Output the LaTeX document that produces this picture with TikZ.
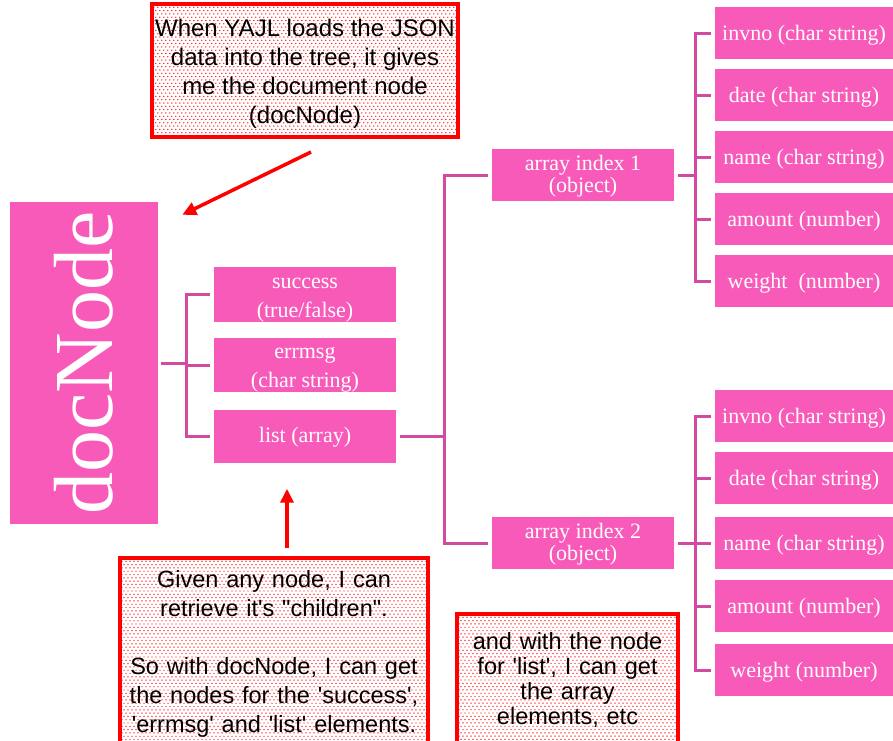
\documentclass[tikz,border=0pt]{standalone}
\usepackage{fontspec}
\setmainfont{Liberation Serif}
\newfontfamily\notefont{Liberation Sans}
\usetikzlibrary{arrows.meta}
\definecolor{boxpink}{RGB}{248,90,185}
\definecolor{linkpink}{RGB}{210,75,160}
\newcommand\qt{\textquotesingle}
\newcommand\lift[1]{\rule{0pt}{#1}}
\begin{document}
\begin{tikzpicture}[
    x=1pt, y=-1pt,
    pinkbox/.style={
        rectangle,
        fill=boxpink,
        text=white,
        inner sep=0pt,
        font=\fontsize{22}{29}\selectfont,
        align=center
    },
    item/.style={pinkbox, minimum width=182pt, minimum height=53pt},
    arritem/.style={pinkbox, minimum width=182pt, minimum height=52pt,
        font=\fontsize{22}{22}\selectfont},
    field/.style={pinkbox, minimum width=178pt, minimum height=52pt,
        font=\fontsize{22}{26}\selectfont},
    dotrow/.style={red, line width=1.4pt, line cap=round, dash pattern=on 0pt off 4pt},
    note/.style={
        rectangle,
        draw=red,
        line width=4pt,
        text=black,
        align=center,
        font=\notefont\fontsize{23.5}{29}\selectfont,
        path picture={
            \foreach \k in {0,...,30} {
                \draw[dotrow]
                    ([yshift=-\k*6.6pt]path picture bounding box.north west) --
                    ([yshift=-\k*6.6pt]path picture bounding box.north east);
                \draw[dotrow, dash phase=2pt]
                    ([yshift=-\k*6.6pt-3.3pt]path picture bounding box.north west) --
                    ([yshift=-\k*6.6pt-3.3pt]path picture bounding box.north east);
            }
        }
    },
    link/.style={draw=linkpink, line width=3pt},
    pointer/.style={draw=red, line width=3.5pt,
        -{Triangle[length=14pt,width=13pt]}}
]
\clip (0,0) rectangle (893,740);

% the document node and its children
\node[pinkbox, minimum width=148pt, minimum height=322pt] (docNode) at (84,363)
    {\rotatebox{90}{\fontsize{84}{84}\selectfont docNode}};
\node[item] (success) at (305,294.5) {\lift{21pt}success\\(true/false)};
\node[item] (errmsg) at (305,365) {\lift{21pt}errmsg\\(char string)};
\node[item] (list) at (305,436) {\lift{18pt}list (array)};

% array elements
\node[arritem] (arr1) at (583,175) {\lift{18pt}array index 1\\(object)};
\node[arritem] (arr2) at (583,543) {\lift{18pt}array index 2\\(object)};

\foreach \y/\t [count=\i] in {33/invno (char string), 95/date (char string),
    157/name (char string), 219/amount (number), 281/weight\ \ (number)}
    \node[field] (fa\i) at (804,\y) {\lift{19pt}\t};
\foreach \y/\t [count=\i] in {416/invno (char string), 478/date (char string),
    543/name (char string), 606/amount (number), 670/weight (number)}
    \node[field] (fb\i) at (804,\y) {\lift{19pt}\t};

% brackets
\coordinate (j1) at (186,363);
\coordinate (j2) at (444,436);
\coordinate (j3) at (695,175);
\coordinate (j4) at (695,543);
\draw[link] ([xshift=3pt]docNode.east) -- (j1);
\foreach \n in {success,errmsg,list}
    \draw[link] (j1) |- ([xshift=-4pt]\n.west);
\draw[link] ([xshift=4pt]list.east) -- (j2);
\foreach \n in {arr1,arr2}
    \draw[link] (j2) |- ([xshift=-4pt]\n.west);
\draw[link] ([xshift=4pt]arr1.east) -- (j3);
\draw[link] ([xshift=4pt]arr2.east) -- (j4);
\foreach \i in {1,...,5} {
    \draw[link] (j3) |- ([xshift=-4pt]fa\i.west);
    \draw[link] (j4) |- ([xshift=-4pt]fb\i.west);
}

% notes
\node[note, minimum width=306pt, minimum height=133pt,
    font=\notefont\fontsize{24}{29}\selectfont] (yajl) at (305,70.5)
    {\lift{24pt}When YAJL loads the JSON\\data into the tree, it gives\\me the document node\\(docNode)};
\node[note, anchor=north, text width=292pt, inner xsep=8pt, inner ysep=12pt] (kids) at (274,556)
    {Given any node, I can\\retrieve it\qt s "children".\\[29pt]So with docNode, I can get\\the nodes for the \qt success\qt,\\\qt errmsg\qt\ and \qt list\qt\ elements.};
\node[note, anchor=north, text width=201pt, inner xsep=10pt, inner ysep=18pt,
    font=\notefont\fontsize{23.5}{25.3}\selectfont] (elems) at (567.5,612)
    {and with the node\\for \qt list\qt, I can get\\the array\\elements, etc};

\draw[pointer] ([xshift=6pt,yshift=-13pt]yajl.south) -- ([xshift=24pt,yshift=-13pt]docNode.north east);
\draw[pointer] ([xshift=13pt,yshift=8pt]kids.north) -- ([xshift=-18pt,yshift=-26pt]list.south);
\end{tikzpicture}
\end{document}
